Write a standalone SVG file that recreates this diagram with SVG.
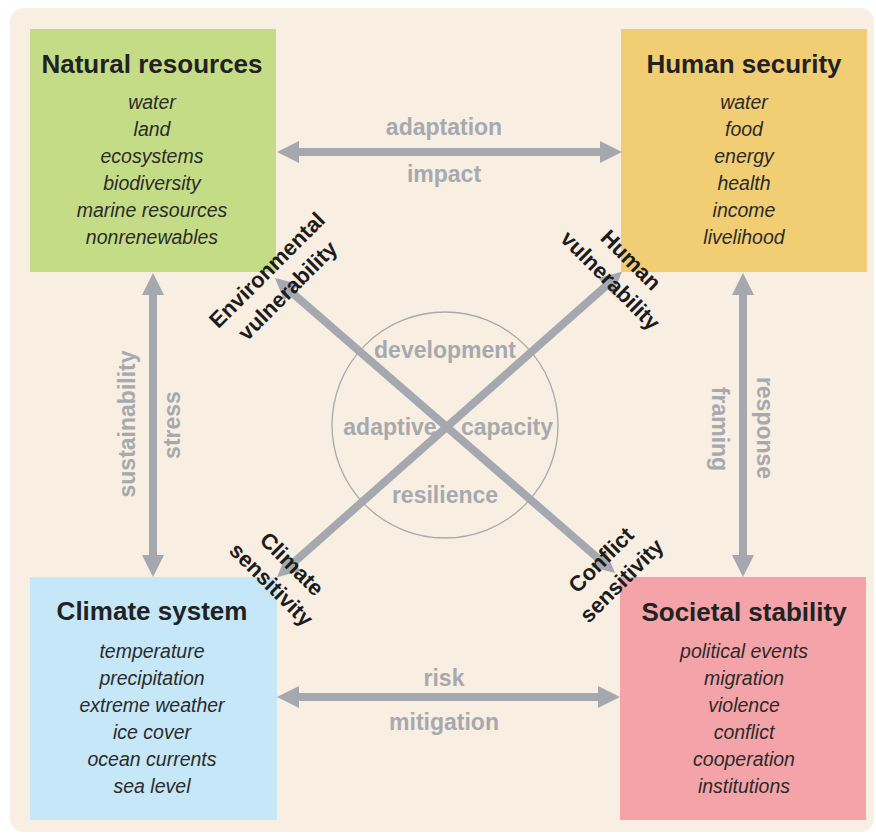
<svg xmlns="http://www.w3.org/2000/svg" width="876" height="834" viewBox="0 0 876 834">
<style>
.title{font-family:"Liberation Sans",Arial,sans-serif;font-weight:bold;font-size:26px;fill:#222;text-anchor:middle}
.item{font-family:"Liberation Sans",Arial,sans-serif;font-style:italic;font-size:19.5px;fill:#2b2b2b;text-anchor:middle}
.glabel{font-family:"Liberation Sans",Arial,sans-serif;font-weight:bold;font-size:23px;fill:#a6a9ae;text-anchor:middle}
.blabel{font-family:"Liberation Sans",Arial,sans-serif;font-weight:bold;font-size:22px;fill:#1c1c1c;text-anchor:middle}
.conn{stroke:#a5a8ae;stroke-width:8;fill:none;marker-start:url(#ah);marker-end:url(#ah)}
</style>
<defs>
<marker id="ah" markerUnits="userSpaceOnUse" markerWidth="24" markerHeight="24" viewBox="0 0 24 24" refX="2" refY="12" orient="auto-start-reverse">
<path d="M0,1 L22,12 L0,23 z" fill="#a5a8ae"/>
</marker>
</defs>
<rect x="0" y="0" width="876" height="834" fill="#ffffff"/>
<rect x="10" y="8" width="864" height="824" rx="14" fill="#f9eee2"/>

<g id="n-natural">
<rect x="30" y="29" width="246" height="243" fill="#c5dc87"/>
<text class="title" x="152" y="73">Natural resources</text>
<text class="item" x="152" y="109">water</text>
<text class="item" x="152" y="136">land</text>
<text class="item" x="152" y="163">ecosystems</text>
<text class="item" x="152" y="190">biodiversity</text>
<text class="item" x="152" y="217">marine resources</text>
<text class="item" x="152" y="244">nonrenewables</text>
</g>

<g id="n-human">
<rect x="621" y="29" width="246" height="243" fill="#f1cd74"/>
<text class="title" x="744" y="73">Human security</text>
<text class="item" x="744" y="109">water</text>
<text class="item" x="744" y="136">food</text>
<text class="item" x="744" y="163">energy</text>
<text class="item" x="744" y="190">health</text>
<text class="item" x="744" y="217">income</text>
<text class="item" x="744" y="244">livelihood</text>
</g>

<g id="n-climate">
<rect x="30" y="577" width="247" height="243" fill="#c5e7f7"/>
<text class="title" x="152" y="620">Climate system</text>
<text class="item" x="152" y="658">temperature</text>
<text class="item" x="152" y="685">precipitation</text>
<text class="item" x="152" y="712">extreme weather</text>
<text class="item" x="152" y="739">ice cover</text>
<text class="item" x="152" y="766">ocean currents</text>
<text class="item" x="152" y="793">sea level</text>
</g>

<g id="n-societal">
<rect x="620" y="577" width="246" height="243" fill="#f4a4a9"/>
<text class="title" x="744" y="621">Societal stability</text>
<text class="item" x="744" y="658">political events</text>
<text class="item" x="744" y="685">migration</text>
<text class="item" x="744" y="712">violence</text>
<text class="item" x="744" y="739">conflict</text>
<text class="item" x="744" y="766">cooperation</text>
<text class="item" x="744" y="793">institutions</text>
</g>

<g id="n-capacity">
<circle cx="445" cy="425" r="113" fill="none" stroke="#a9a9a9" stroke-width="1.3"/>
<text class="glabel" x="445" y="358">development</text>
<text class="glabel" x="390" y="435">adaptive</text>
<text class="glabel" x="507" y="435">capacity</text>
<text class="glabel" x="445" y="503">resilience</text>
</g>

<g id="connectors">
<line class="conn" x1="297" y1="152" x2="602" y2="152"/>
<line class="conn" x1="297" y1="697" x2="600" y2="697"/>
<line class="conn" x1="153" y1="293" x2="153" y2="557"/>
<line class="conn" x1="743" y1="293" x2="743" y2="557"/>
<line class="conn" x1="290" y1="291" x2="600" y2="560"/>
<line class="conn" x1="607" y1="285" x2="292" y2="564"/>
</g>

<g id="connector-labels">
<text class="glabel" x="444" y="135">adaptation</text>
<text class="glabel" x="444" y="182">impact</text>
<text class="glabel" x="444" y="686">risk</text>
<text class="glabel" x="444" y="730">mitigation</text>
<text class="glabel" transform="translate(135,424) rotate(-90)">sustainability</text>
<text class="glabel" transform="translate(180,425) rotate(-90)">stress</text>
<text class="glabel" transform="translate(712,429) rotate(90)">framing</text>
<text class="glabel" transform="translate(757,428) rotate(90)">response</text>
<g transform="translate(278,281) rotate(-45)">
<text class="blabel" x="0" y="-8">Environmental</text>
<text class="blabel" x="0" y="21">vulnerability</text>
</g>
<g transform="translate(620,271) rotate(45)">
<text class="blabel" x="0" y="-8">Human</text>
<text class="blabel" x="0" y="21">vulnerability</text>
</g>
<g transform="translate(281,575) rotate(45)">
<text class="blabel" x="0" y="-8">Climate</text>
<text class="blabel" x="0" y="21">sensitivity</text>
</g>
<g transform="translate(612,571) rotate(-45)">
<text class="blabel" x="0" y="-8">Conflict</text>
<text class="blabel" x="0" y="21">sensitivity</text>
</g>
</g>
</svg>
